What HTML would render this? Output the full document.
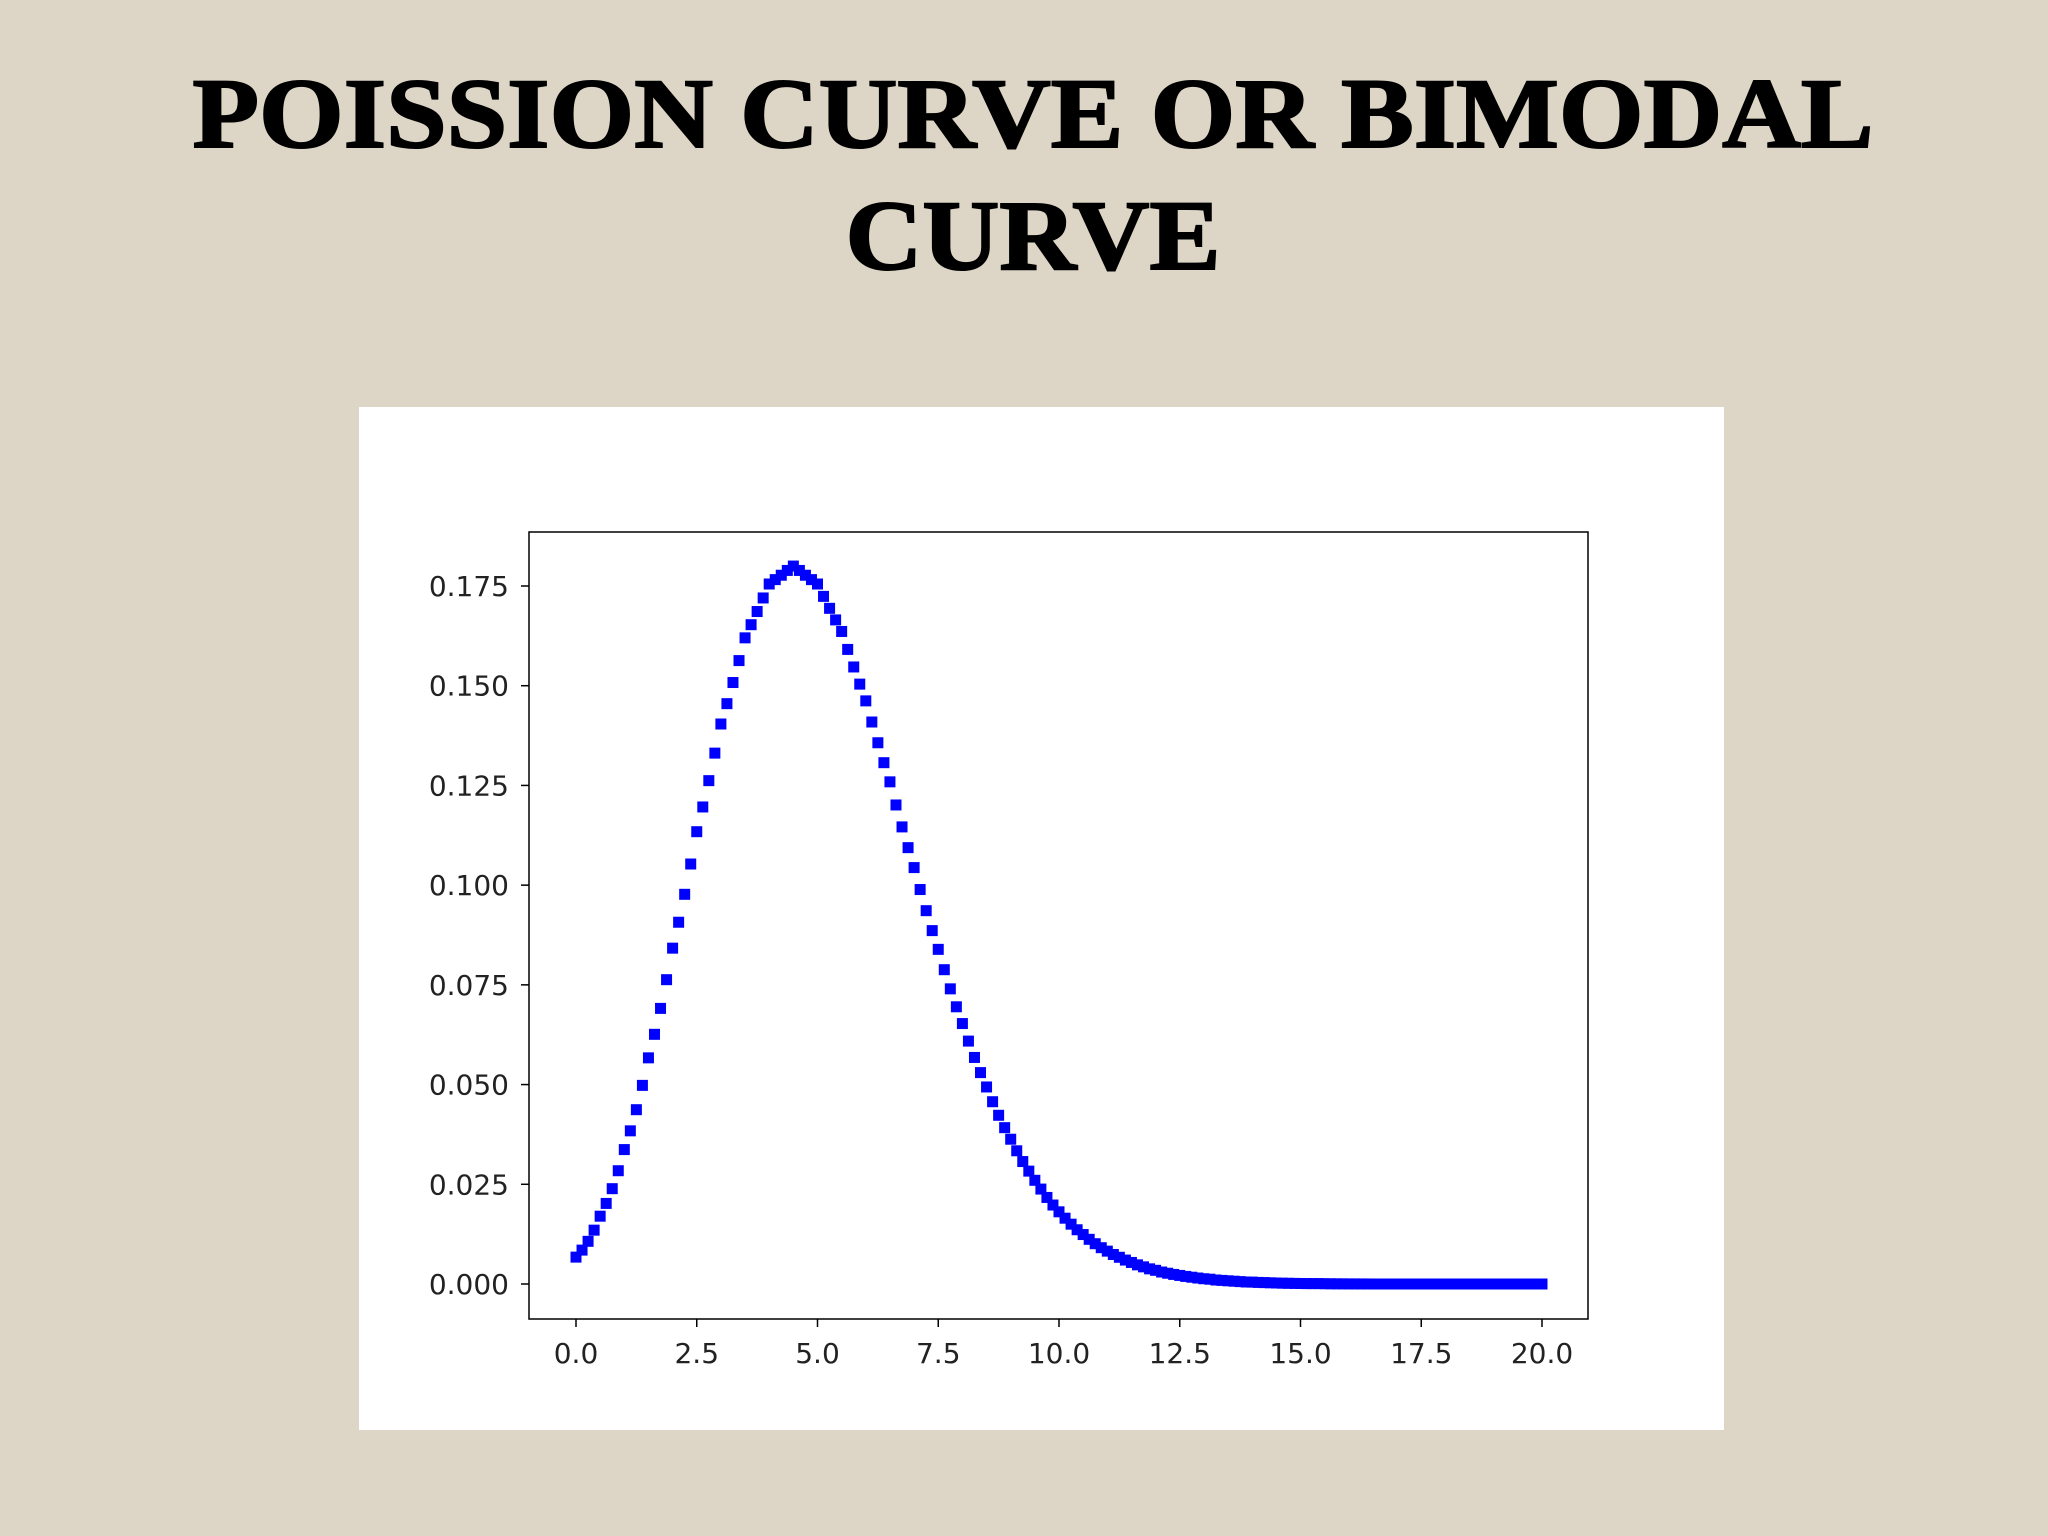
<!DOCTYPE html>
<html>
<head>
<meta charset="utf-8">
<style>
html,body{margin:0;padding:0;}
body{width:2048px;height:1536px;background:#ddd6c6;overflow:hidden;}
svg{display:block;}
</style>
</head>
<body>
<svg id="chart" width="2048" height="1536" viewBox="0 0 2048 1536" xmlns="http://www.w3.org/2000/svg">
  <rect x="0" y="0" width="2048" height="1536" fill="#ddd6c6"/>
  <text x="1033" y="147" text-anchor="middle" font-family="Liberation Serif, serif" font-weight="bold" font-size="100" textLength="1681" lengthAdjust="spacingAndGlyphs" fill="#000" stroke="#000" stroke-width="2">POISSION CURVE OR BIMODAL</text>
  <text x="1033" y="269" text-anchor="middle" font-family="Liberation Serif, serif" font-weight="bold" font-size="100" textLength="375" lengthAdjust="spacingAndGlyphs" fill="#000" stroke="#000" stroke-width="2">CURVE</text>
  <rect x="359" y="407" width="1365" height="1023" fill="#ffffff"/>
  <g id="plot"></g>
</svg>
<script>
const xTicks = [0, 2.5, 5, 7.5, 10, 12.5, 15, 17.5, 20];
const xTickLabels = ["0.0","2.5","5.0","7.5","10.0","12.5","15.0","17.5","20.0"];
const yTicks = [0, 0.025, 0.05, 0.075, 0.1, 0.125, 0.15, 0.175];
const yTickLabels = ["0.000","0.025","0.050","0.075","0.100","0.125","0.150","0.175"];
const xValues = [0,0.125,0.25,0.375,0.5,0.625,0.75,0.875,1,1.125,1.25,1.375,1.5,1.625,1.75,1.875,2,2.125,2.25,2.375,2.5,2.625,2.75,2.875,3,3.125,3.25,3.375,3.5,3.625,3.75,3.875,4,4.125,4.25,4.375,4.5,4.625,4.75,4.875,5,5.125,5.25,5.375,5.5,5.625,5.75,5.875,6,6.125,6.25,6.375,6.5,6.625,6.75,6.875,7,7.125,7.25,7.375,7.5,7.625,7.75,7.875,8,8.125,8.25,8.375,8.5,8.625,8.75,8.875,9,9.125,9.25,9.375,9.5,9.625,9.75,9.875,10,10.125,10.25,10.375,10.5,10.625,10.75,10.875,11,11.125,11.25,11.375,11.5,11.625,11.75,11.875,12,12.125,12.25,12.375,12.5,12.625,12.75,12.875,13,13.125,13.25,13.375,13.5,13.625,13.75,13.875,14,14.125,14.25,14.375,14.5,14.625,14.75,14.875,15,15.125,15.25,15.375,15.5,15.625,15.75,15.875,16,16.125,16.25,16.375,16.5,16.625,16.75,16.875,17,17.125,17.25,17.375,17.5,17.625,17.75,17.875,18,18.125,18.25,18.375,18.5,18.625,18.75,18.875,19,19.125,19.25,19.375,19.5,19.625,19.75,19.875,20];
const yValues = [0.00674,0.0085,0.0107,0.0135,0.0170,0.0202,0.0239,0.0284,0.0337,0.0384,0.0437,0.0498,0.0567,0.0626,0.0691,0.0763,0.0842,0.0907,0.0977,0.1053,0.1134,0.1196,0.1262,0.1331,0.1404,0.1455,0.1508,0.1563,0.1620,0.1653,0.1686,0.1720,0.1755,0.1766,0.1777,0.1789,0.1800,0.1789,0.1777,0.1766,0.1755,0.1724,0.1694,0.1665,0.1636,0.1591,0.1547,0.1504,0.1462,0.1409,0.1357,0.1307,0.1259,0.1201,0.1146,0.1094,0.1044,0.0989,0.0936,0.0886,0.0839,0.0788,0.0740,0.0695,0.0653,0.0609,0.0568,0.0530,0.0494,0.0457,0.0423,0.0392,0.0363,0.0334,0.0307,0.0283,0.0260,0.0238,0.0217,0.0198,0.0181,0.0165,0.0150,0.0136,0.0124,0.0112,0.0101,0.0091,0.00824,0.0074,0.0067,0.0060,0.0054,0.0048,0.0043,0.0038,0.00343,0.0030,0.0027,0.0024,0.00215,0.0019,0.0017,0.0015,0.00132,0.0012,0.0010,0.0009,0.0008,0.0007,0.0006,0.0005,0.00047,0.0004,0.00035,0.0003,0.00025,0.0002,0.00018,0.00015,0.00013,0.0001,0.0001,0.0001,0.00007,0.00005,0.00004,0.00003,0.00002,0.00002,0.00001,0.00001,0,0,0,0,0,0,0,0,0,0,0,0,0,0,0,0,0,0,0,0,0,0,0,0,0,0,0,0,0,0,0,0,0,0,0,0,0];

const NS = "http://www.w3.org/2000/svg";
const plot = document.getElementById('plot');
const box = {x0:529, y0:532, x1:1588, y1:1319};
function xs(v){ return 576 + v * (1542 - 576) / 20; }
function ys(v){ return 1284 - v * (1284 - 586) / 0.175; }
function mk(tag, attrs){ const e = document.createElementNS(NS, tag); for (const k in attrs) e.setAttribute(k, attrs[k]); plot.appendChild(e); return e; }

// markers
for (let i = 0; i < xValues.length; i++) {
  const r = mk('rect', {x: xs(xValues[i]) - 5.5, y: ys(yValues[i]) - 5.5, width: 11, height: 11, fill: '#0000ff'});
  
  
}
// frame
const f = mk('rect', {x: box.x0, y: box.y0, width: box.x1 - box.x0, height: box.y1 - box.y0, fill: 'none', stroke: '#000', 'stroke-width': 1.5});


// y ticks
for (let i = 0; i < yTicks.length; i++) {
  const y = ys(yTicks[i]);
  const t = mk('line', {x1: box.x0 - 8, x2: box.x0, y1: y, y2: y, stroke: '#000', 'stroke-width': 1.5});
  
  
  const l = mk('text', {x: box.x0 - 20, y: y + 10, 'text-anchor': 'end', 'font-family': 'DejaVu Sans, sans-serif', 'font-size': 28, fill: '#222'});
  l.textContent = yTickLabels[i];
  
  
}
// x ticks
for (let i = 0; i < xTicks.length; i++) {
  const x = xs(xTicks[i]);
  const t = mk('line', {x1: x, x2: x, y1: box.y1, y2: box.y1 + 8, stroke: '#000', 'stroke-width': 1.5});
  
  
  const l = mk('text', {x: x, y: box.y1 + 44, 'text-anchor': 'middle', 'font-family': 'DejaVu Sans, sans-serif', 'font-size': 28, fill: '#222'});
  l.textContent = xTickLabels[i];
  
  
}
</script>
</body>
</html>
